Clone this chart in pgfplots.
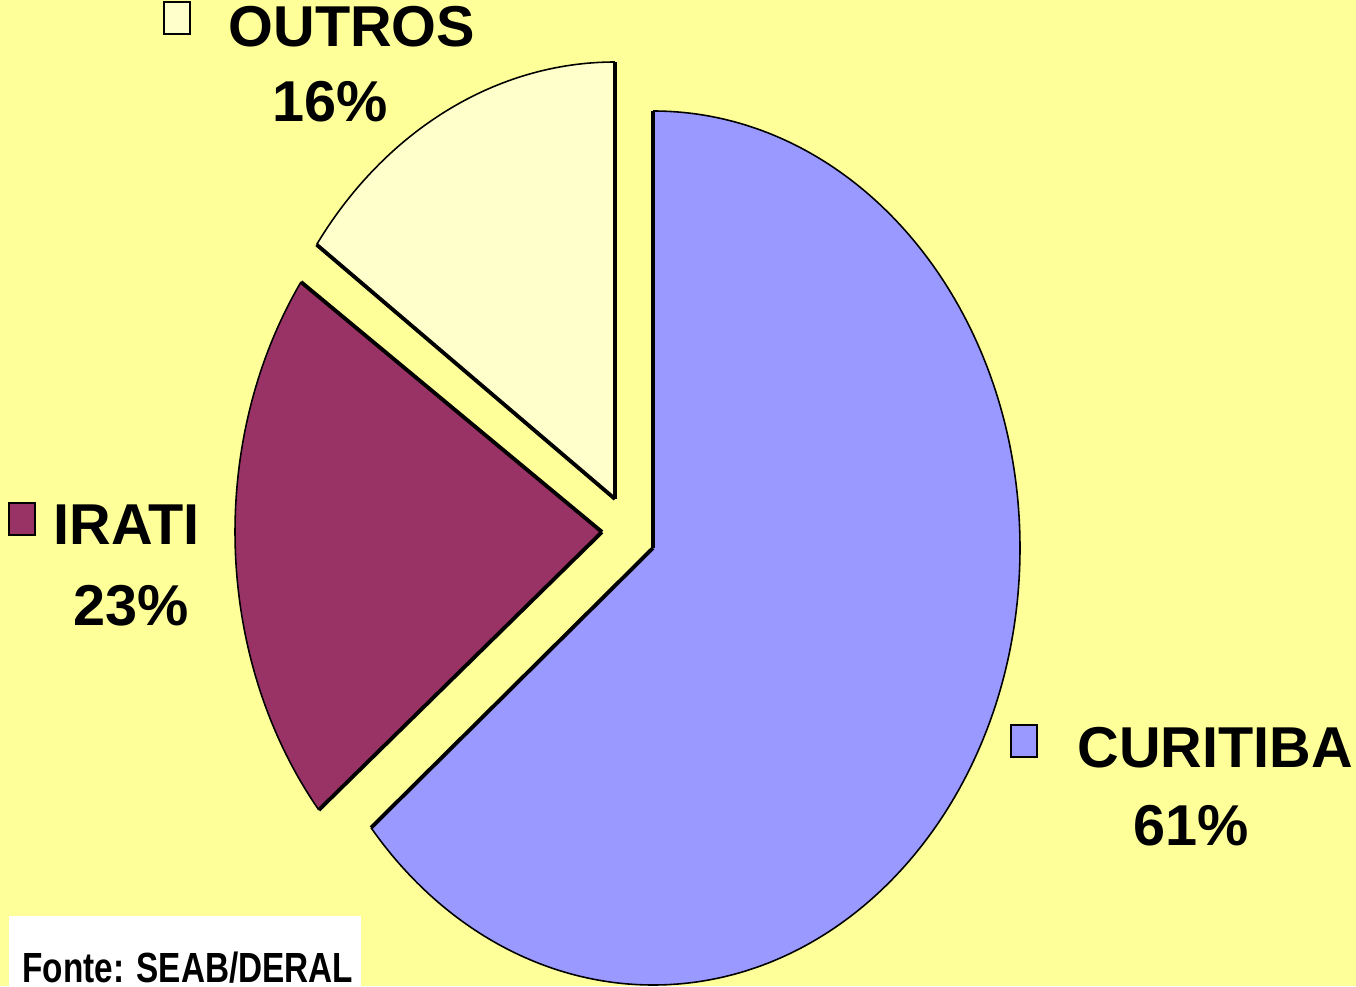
\documentclass[border=0pt]{standalone}
\usepackage{pgfplots}
\pgfplotsset{compat=1.18}
\usepackage{fontspec}
\setmainfont{Liberation Sans}
\definecolor{bg}{HTML}{FFFF99}
\definecolor{curitiba}{HTML}{9999FF}
\definecolor{irati}{HTML}{993366}
\definecolor{outros}{HTML}{FFFFCC}
% slice: apex x, apex y (pixel grid, y up), start angle, end angle (parametric)
\newcommand{\slice}[5]{%
  \fill[#5] (axis cs:#1,#2) -- ++(#3:3.67cm and 4.37cm)
     arc[start angle=#3, end angle=#4, x radius=3.67cm, y radius=4.37cm] -- cycle;
  \draw[black, line width=0.45pt] (axis cs:#1,#2) ++(#3:3.67cm and 4.37cm)
     arc[start angle=#3, end angle=#4, x radius=3.67cm, y radius=4.37cm];
  \draw[black, line width=1.1pt] (axis cs:#1,#2) -- ++(#3:3.67cm and 4.37cm);
  \draw[black, line width=1.1pt] (axis cs:#1,#2) -- ++(#4:3.67cm and 4.37cm);
}
\newcommand{\bigfont}{\fontsize{16.4}{19}\selectfont\bfseries}
\begin{document}
\begin{tikzpicture}
\begin{axis}[
  scale only axis, width=13.56cm, height=9.86cm,
  xmin=0, xmax=1356, ymin=0, ymax=986,
  hide axis, clip=false]
\fill[bg] (axis cs:0,0) rectangle (axis cs:1356,986);
% CURITIBA 61%
\slice{653}{438}{90}{-140.2}{curitiba}
% OUTROS 16%
\slice{615}{487}{90}{144.4}{outros}
% IRATI 23%
\slice{602}{454}{145.1}{219.5}{irati}
% labels
\filldraw[fill=outros, draw=black, line width=0.8pt] (axis cs:164,952) rectangle (axis cs:190,984);
\node[anchor=base west, inner sep=0pt] at (axis cs:228,939) {\bigfont OUTROS};
\node[anchor=base west, inner sep=0pt] at (axis cs:272,864) {\bigfont 16\%};
\filldraw[fill=irati, draw=black, line width=0.8pt] (axis cs:9,451) rectangle (axis cs:35,483);
\node[anchor=base west, inner sep=0pt] at (axis cs:53,441) {\bigfont IRATI};
\node[anchor=base west, inner sep=0pt] at (axis cs:73,361) {\bigfont 23\%};
\filldraw[fill=curitiba, draw=black, line width=0.8pt] (axis cs:1011,229) rectangle (axis cs:1037,261);
\node[anchor=base west, inner sep=0pt] at (axis cs:1077,219) {\bigfont CURITIBA};
\node[anchor=base west, inner sep=0pt] at (axis cs:1133,141) {\bigfont 61\%};
% source box
\fill[white] (axis cs:9,0) rectangle (axis cs:361,70);
\node[anchor=base west, inner sep=0pt, xscale=0.79] at (axis cs:22,4) {\fontsize{12}{14}\selectfont\bfseries Fonte: SEAB/DERAL};
\end{axis}
\pgfresetboundingbox
\path (current axis.south west) rectangle (current axis.north east);
\end{tikzpicture}
\end{document}
